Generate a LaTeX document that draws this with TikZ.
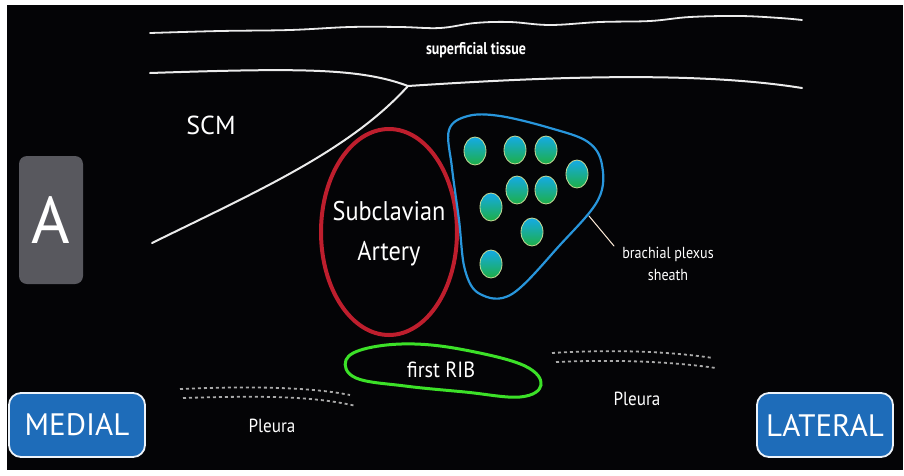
\documentclass[tikz,border=0pt]{standalone}
\usepackage{fontspec}
\setmainfont{PT Sans}
\usetikzlibrary{shapes.geometric}
\definecolor{bg}{RGB}{4,4,6}
\definecolor{tissue}{RGB}{235,235,235}
\definecolor{artery}{RGB}{190,30,45}
\definecolor{sheath}{RGB}{40,150,220}
\definecolor{nervetop}{RGB}{20,170,230}
\definecolor{nervebot}{RGB}{30,175,70}
\definecolor{nerverim}{RGB}{200,220,150}
\definecolor{rib}{RGB}{60,225,40}
\definecolor{pleura}{RGB}{170,170,170}
\definecolor{labelgray}{RGB}{88,88,94}
\definecolor{sidebtn}{RGB}{30,108,185}
\begin{document}
\begin{tikzpicture}[x=1pt,y=-1pt,
  tissueline/.style={draw=tissue,line width=2pt,line cap=round},
  nerve/.style={ellipse,minimum width=22pt,minimum height=28pt,inner sep=0pt,
    top color=nervetop,bottom color=nervebot,draw=nerverim,line width=0.8pt},
  pleuraline/.style={draw=pleura,line width=1.8pt,dash pattern=on 3pt off 3pt},
  lbl/.style={text=white,inner sep=0pt,align=center},
  sidebutton/.style={draw=white!92!sidebtn,line width=1.8pt,fill=sidebtn,rounded corners=12pt,
    text=white,font=\fontsize{31}{32}\selectfont,minimum width=136pt,minimum height=64pt,inner sep=0pt}]
\useasboundingbox (0,0) rectangle (904,475);
\fill[white] (0,0) rectangle (904,475);
\fill[bg] (7,5) rectangle (903,470);

% superficial tissue boundaries
\coordinate (topL) at (150,33);
\coordinate (topR) at (802,20);
\draw[tissueline,line width=1.8pt] plot[smooth,tension=0.6] coordinates {(topL) (220,31) (290,30) (350,27) (400,27) (440,28) (475,23) (510,22) (550,25) (600,22) (650,21) (690,17) (740,16) (780,18) (topR)};
\coordinate (junc) at (408,86);
\coordinate (midL) at (150,73);
\coordinate (midR) at (802,88);
\coordinate (scmL) at (152,243);
\draw[tissueline] (midL) .. controls (300,68) and (360,68) .. (junc);
\draw[tissueline] (junc) .. controls (530,78) and (690,70) .. (midR);
\draw[tissueline] (junc) .. controls (350,150) and (260,190) .. (scmL);
\node[lbl,font=\bfseries\fontsize{17}{19}\selectfont] (sup) at (476,50) {\scalebox{0.82}[1]{superficial tissue}};
\node[lbl,font=\fontsize{26}{28}\selectfont] (scm) at (211,125) {SCM};

% orientation label and side buttons
\node[fill=labelgray,rounded corners=8pt,minimum width=64pt,minimum height=128pt,inner sep=0pt,
  text=white,font=\fontsize{66}{68}\selectfont] (ablk) at (51,220) {A};
\node[sidebutton] (medial) at (77,425) {MEDIAL};
\node[sidebutton] (lateral) at (825,425) {LATERAL};

% subclavian artery
\node[ellipse,draw=artery,line width=4pt,minimum width=136pt,minimum height=206pt,inner sep=0pt] (sa) at (389,232) {};
\node[lbl,font=\fontsize{27}{40}\selectfont] (satext) at (389,234) {\scalebox{0.9}[1]{Subclavian}\\\scalebox{0.9}[1]{Artery}};

% brachial plexus sheath and trunks
\draw[sheath,line width=2.2pt] plot[smooth cycle,tension=0.6] coordinates {(449,130) (468,116) (500,116) (550,128) (588,142) (602,165) (598,200) (560,245) (512,294) (480,294) (465,270) (459,220) (452,168)};
\node[nerve] (n1) at (475,151) {};
\node[nerve] (n2) at (515,150) {};
\node[nerve] (n3) at (546,150) {};
\node[nerve] (n4) at (577,174) {};
\node[nerve] (n5) at (517,190) {};
\node[nerve] (n6) at (546,190) {};
\node[nerve] (n7) at (491,207) {};
\node[nerve] (n8) at (532,232) {};
\node[nerve] (n9) at (491,264) {};
\node[lbl,font=\fontsize{16}{22}\selectfont] (bps) at (668,264) {\scalebox{0.88}[1]{brachial plexus}\\\scalebox{0.88}[1]{sheath}};
\coordinate (ptrA) at (589,216);
\coordinate (ptrB) at (614,246);
\draw[draw=white!85!orange,line width=1pt,line cap=round] (ptrA) -- (ptrB);

% first rib
\draw[rib,line width=3pt] plot[smooth cycle,tension=0.65] coordinates {(346,360) (368,348) (415,344) (470,351) (525,366) (541,385) (520,397) (465,392) (405,386) (356,378)};
\node[lbl,font=\fontsize{22}{24}\selectfont] (ribtext) at (441,370) {\scalebox{0.92}[1]{first RIB}};

% pleura
\coordinate (plA1) at (180,389);
\coordinate (plA2) at (350,395);
\coordinate (plB1) at (183,398);
\coordinate (plB2) at (356,406);
\draw[pleuraline] (plA1) .. controls (250,386) and (310,387) .. (plA2);
\draw[pleuraline] (plB1) .. controls (250,396) and (310,395) .. (plB2);
\coordinate (prA1) at (552,353);
\coordinate (prA2) at (713,358);
\coordinate (prB1) at (556,362);
\coordinate (prB2) at (716,368);
\draw[pleuraline] (prA1) .. controls (600,350) and (660,350) .. (prA2);
\draw[pleuraline] (prB1) .. controls (600,360) and (660,360) .. (prB2);
\node[lbl,font=\fontsize{19}{20}\selectfont] (pleuraL) at (272,426) {\scalebox{0.9}[1]{Pleura}};
\node[lbl,font=\fontsize{19}{20}\selectfont] (pleuraR) at (637,399) {\scalebox{0.9}[1]{Pleura}};
\end{tikzpicture}
\end{document}
